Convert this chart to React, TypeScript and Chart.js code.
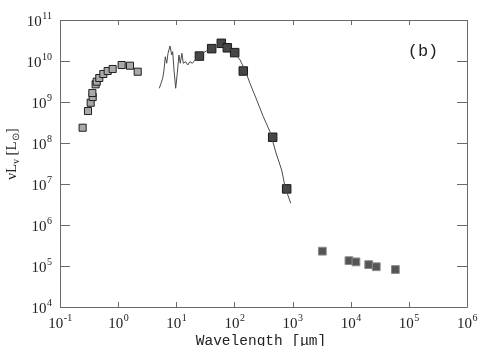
import React, { useEffect, useRef } from "react";
import { Chart, registerables } from "chart.js";

Chart.register(...registerables);

// Optical / near-IR photometry (light squares)
const opticalWave = [0.245, 0.303, 0.337, 0.365, 0.36, 0.41, 0.428, 0.474, 0.556, 0.661, 0.805, 1.15, 1.6, 2.17];
const opticalLum = [2.36e8, 6.03e8, 9.6e8, 1.32e9, 1.66e9, 2.7e9, 3.13e9, 3.85e9, 4.82e9, 5.7e9, 6.38e9, 7.98e9, 7.68e9, 5.48e9];

// Far-IR / submm photometry (dark squares)
const irWave = [25, 40.6, 59.5, 75.5, 101, 142, 455, 792];
const irLum = [1.32e10, 2.0e10, 2.7e10, 2.1e10, 1.6e10, 5.7e9, 1.38e8, 7.6e6];

// Radio photometry (medium squares)
const radioWave = [3250, 9330, 12300, 20400, 27500, 58600];
const radioLum = [2.3e5, 1.35e5, 1.26e5, 1.08e5, 9.6e4, 8.2e4];

// Model SED curve
const modelWave = [5.11, 5.46, 5.83, 6.15, 6.47, 6.84, 7.21, 7.8, 8.34, 8.67, 9.14, 9.77, 10.4, 11.1, 11.7, 12.5, 13.2, 14.5, 15.7, 17.2, 18.9, 21.0, 25.6, 33.3, 43.4, 56.5, 68.9, 83.9, 102, 125, 152, 185, 242, 314, 409, 519, 650, 741, 929];
const modelLum = [2.16e9, 2.86e9, 3.78e9, 6.03e9, 1.27e10, 8.79e9, 1.54e10, 2.32e10, 1.4e10, 1.69e10, 6.03e9, 2.16e9, 5.01e9, 1.4e10, 8.79e9, 1.54e10, 8.79e9, 9.62e9, 7.98e9, 9.62e9, 8.79e9, 1.06e10, 1.4e10, 1.78e10, 2.16e10, 2.32e10, 2.23e10, 1.93e10, 1.54e10, 1.06e10, 6.03e9, 2.86e9, 1.12e9, 4.38e8, 1.89e8, 5.7e7, 2.19e7, 8.59e6, 3.38e6];

const xExponents = [-1, 0, 1, 2, 3, 4, 5, 6];
const yExponents = [4, 5, 6, 7, 8, 9, 10, 11];

const xTitle = "Wavelength [μm]";
const panelLabel = "(b)";

const zip = (xs: number[], ys: number[]) => xs.map((x, i) => ({ x, y: ys[i] }));

const framePlugin = {
  id: "framePlugin",
  beforeDatasetsDraw(chart: any) {
    const { ctx, chartArea: a, scales } = chart;
    const xs = scales.x;
    const ys = scales.y;
    ctx.save();
    ctx.strokeStyle = "#6a6a6a";
    ctx.lineWidth = 1;
    ctx.beginPath();
    ctx.rect(Math.round(a.left) + 0.5, Math.round(a.top) + 0.5, Math.round(a.right - a.left), Math.round(a.bottom - a.top));
    for (const e of xExponents) {
      const px = Math.round(xs.getPixelForValue(Math.pow(10, e))) + 0.5;
      ctx.moveTo(px, a.top);
      ctx.lineTo(px, a.top + 5);
      ctx.moveTo(px, a.bottom);
      ctx.lineTo(px, a.bottom - 5);
    }
    for (const e of yExponents) {
      const py = Math.round(ys.getPixelForValue(Math.pow(10, e))) + 0.5;
      ctx.moveTo(a.left, py);
      ctx.lineTo(a.left + 10, py);
      ctx.moveTo(a.right, py);
      ctx.lineTo(a.right - 10, py);
    }
    ctx.stroke();
    ctx.restore();
  },
  afterDraw(chart: any) {
    const { ctx, chartArea: a, scales } = chart;
    const xs = scales.x;
    const ys = scales.y;
    const big = "15px 'Liberation Serif', serif";
    const small = "10px 'Liberation Serif', serif";
    ctx.save();
    ctx.fillStyle = "#222";
    ctx.textBaseline = "alphabetic";
    ctx.textAlign = "left";
    // x tick labels
    for (const e of xExponents) {
      const px = xs.getPixelForValue(Math.pow(10, e));
      ctx.font = big;
      const wb = ctx.measureText("10").width;
      ctx.font = small;
      const es = String(e);
      const we = ctx.measureText(es).width;
      const x0 = px - (wb + we) / 2;
      ctx.font = big;
      ctx.fillText("10", x0, a.bottom + 21);
      ctx.font = small;
      ctx.fillText(es, x0 + wb + 0.5, a.bottom + 14);
    }
    // y tick labels
    for (const e of yExponents) {
      const py = ys.getPixelForValue(Math.pow(10, e));
      ctx.font = big;
      const wb = ctx.measureText("10").width;
      ctx.font = small;
      const es = String(e);
      const we = ctx.measureText(es).width;
      const right = 52;
      const x0 = right - we - wb - 0.5;
      ctx.font = big;
      ctx.fillText("10", x0, py + 6);
      ctx.font = small;
      ctx.fillText(es, x0 + wb + 0.5, py - 1);
    }
    // x title
    ctx.font = "14.5px 'Liberation Mono', monospace";
    ctx.textAlign = "center";
    ctx.fillText(xTitle, 261, 345);
    // panel label
    ctx.font = "17px 'Liberation Mono', monospace";
    ctx.textBaseline = "middle";
    ctx.fillText(panelLabel, 423, 51);
    // y title (rotated): νL_ν [L⊙]
    ctx.translate(16, 154);
    ctx.rotate(-Math.PI / 2);
    ctx.textAlign = "left";
    ctx.textBaseline = "alphabetic";
    const parts: [string, string, number][] = [
      ["νL", big, 0],
      ["ν", small, 3],
      [" [L", big, 0],
      ["⊙", small, 3],
      ["]", big, 0],
    ];
    let total = 0;
    for (const [t, f] of parts) {
      ctx.font = f;
      total += ctx.measureText(t).width;
    }
    let cx = -total / 2;
    for (const [t, f, dy] of parts) {
      ctx.font = f;
      ctx.fillText(t, cx, dy);
      cx += ctx.measureText(t).width;
    }
    ctx.restore();
  },
};

export default function App() {
  const ref = useRef<HTMLCanvasElement | null>(null);
  useEffect(() => {
    if (!ref.current) return;
    const chart = new Chart(ref.current, {
      type: "scatter",
      data: {
        datasets: [
          {
            type: "line",
            data: zip(modelWave, modelLum),
            borderColor: "#4a4a4a",
            borderWidth: 1,
            pointRadius: 0,
            fill: false,
            tension: 0,
          } as any,
          {
            data: zip(irWave, irLum),
            pointStyle: "rect",
            pointRadius: 6,
            backgroundColor: "#464646",
            borderColor: "#1a1a1a",
            borderWidth: 1,
          },
          {
            data: zip(radioWave, radioLum),
            pointStyle: "rect",
            pointRadius: 5.5,
            backgroundColor: "#555555",
            borderColor: "#8a8a8a",
            borderWidth: 1,
          },
          {
            data: zip(opticalWave, opticalLum),
            pointStyle: "rect",
            pointRadius: 5,
            backgroundColor: "#a9a9a9",
            borderColor: "#1e1e1e",
            borderWidth: 1,
          },
        ],
      },
      options: {
        animation: false,
        responsive: false,
        devicePixelRatio: 1,
        layout: { padding: { left: 60, right: 18, top: 20, bottom: 39 } },
        plugins: { legend: { display: false }, tooltip: { enabled: false } },
        scales: {
          x: {
            type: "logarithmic",
            min: 0.1,
            max: 1e6,
            ticks: { display: false },
            grid: { display: false },
            border: { display: false },
            afterFit: (s: any) => {
              s.height = 0;
            },
          },
          y: {
            type: "logarithmic",
            min: 1e4,
            max: 1e11,
            ticks: { display: false },
            grid: { display: false },
            border: { display: false },
            afterFit: (s: any) => {
              s.width = 0;
            },
          },
        },
      },
      plugins: [framePlugin],
    });
    return () => chart.destroy();
  }, []);
  return (
    <div style={{ position: "absolute", left: 0, top: 0, width: 485, height: 346, background: "#fff" }}>
      <canvas ref={ref} width={485} height={346} />
    </div>
  );
}
